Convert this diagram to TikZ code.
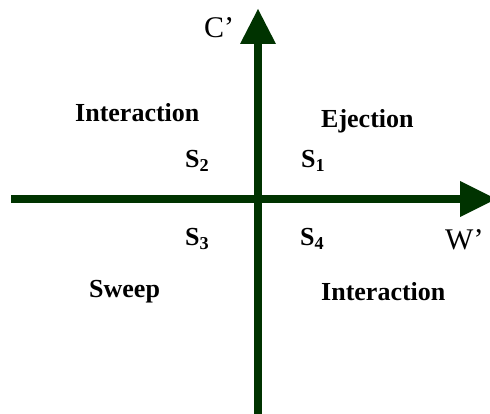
\documentclass[tikz,border=0pt]{standalone}
\usepackage{fontspec}
\setmainfont{Liberation Serif}
\definecolor{axisgreen}{RGB}{0,51,0}
\tikzset{
  axisline/.style={draw=axisgreen, line width=8pt},
  axishead/.style={fill=axisgreen, draw=none},
  quad/.style={inner sep=0pt, anchor=base west, font=\fontsize{26}{30}\selectfont\bfseries},
  axlabel/.style={inner sep=0pt, anchor=base west, font=\fontsize{30}{34}\selectfont},
}
\begin{document}
\begin{tikzpicture}[x=1pt,y=-1pt]
\useasboundingbox (0,0) rectangle (490,414);
% axes
\coordinate (hstart) at (11,199);
\coordinate (hbase) at (461,199);
\coordinate (vstart) at (258,418);
\coordinate (vbase) at (258,43);
\draw[axisline] (hstart) -- (hbase);
\draw[axisline] (vstart) -- (vbase);
\fill[axishead] (240,44) -- (276,44) -- (258,9) -- cycle;
\fill[axishead] (460,181) -- (460,217) -- (496,199) -- cycle;
% axis labels
\node[axlabel] (cl) at (204,38) {C’};
\node[axlabel] (wl) at (445,250) {W’};
% quadrant labels
\node[quad] (int1) at (75,122) {Interaction};
\node[quad] (ej) at (321,128) {Ejection};
\node[quad] (sw) at (89,298) {Sweep};
\node[quad] (int2) at (321,300) {Interaction};
\node[quad] (s2) at (185,168) {S$_{\mathbf{2}}$};
\node[quad] (s1) at (301,168) {S$_{\mathbf{1}}$};
\node[quad] (s3) at (185,246) {S$_{\mathbf{3}}$};
\node[quad] (s4) at (300,246) {S$_{\mathbf{4}}$};
\end{tikzpicture}
\end{document}
